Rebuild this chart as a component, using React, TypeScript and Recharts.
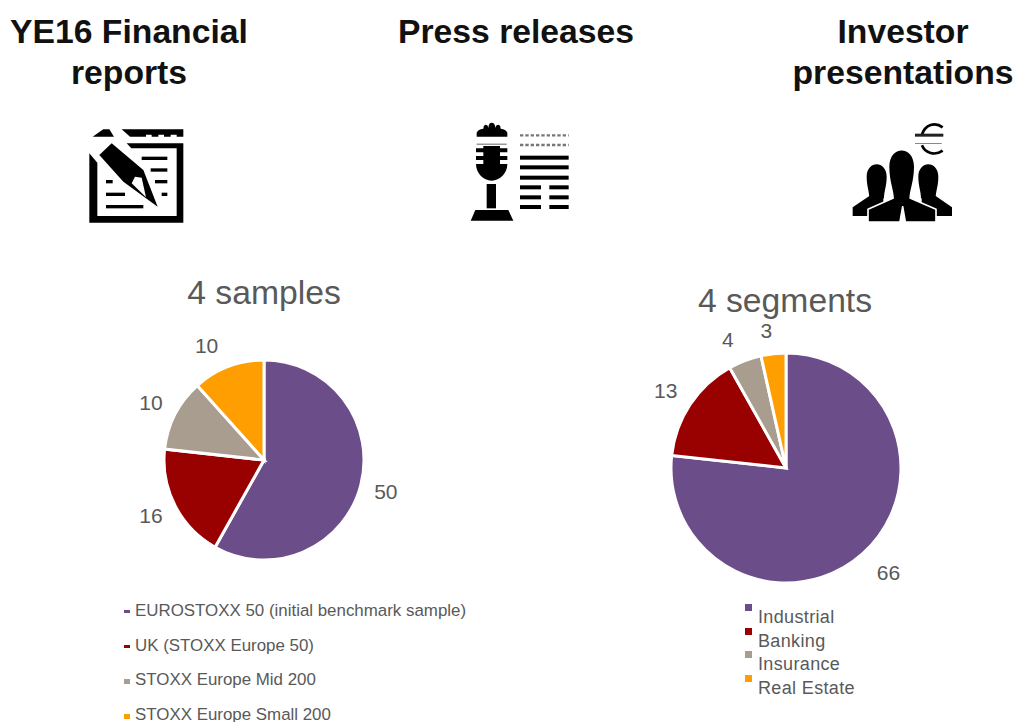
import React from "react";
import { PieChart, Pie, Cell, Legend } from "recharts";

const FONT = "'Liberation Sans', Arial, sans-serif";
const GREY = "#595959";

const sampleNames = ["EUROSTOXX 50 (initial benchmark sample)", "UK (STOXX Europe 50)", "STOXX Europe Mid 200", "STOXX Europe Small 200"];
const sampleValues = [50, 16, 10, 10];
const segmentNames = ["Industrial", "Banking", "Insurance", "Real Estate"];
const segmentValues = [66, 13, 4, 3];
const sliceColors = ["#6b4d89", "#990000", "#a99d8f", "#ff9e00"];

const headings = [
  { lines: ["YE16 Financial", "reports"], center: 129 },
  { lines: ["Press releases"], center: 516 },
  { lines: ["Investor", "presentations"], center: 903 },
];

const toRows = (names: string[], values: number[]) => names.map((name, i) => ({ name, value: values[i] }));
const sampleRows = toRows(sampleNames, sampleValues);
const segmentRows = toRows(segmentNames, segmentValues);

const RAD = Math.PI / 180;
const NO_MARGIN = { top: 0, right: 0, bottom: 0, left: 0 };

// Value label set outside the rim along the slice's mid angle, then nudged clear of its neighbours.
const radialLabel = (gap: number, nudges: number[][]) => (p: any) => {
  const r = p.outerRadius + gap;
  const x = p.cx + r * Math.cos(-p.midAngle * RAD) + nudges[p.index][0];
  const y = p.cy + r * Math.sin(-p.midAngle * RAD) + nudges[p.index][1];
  return (
    <text x={x} y={y} textAnchor="middle" dominantBaseline="central" fontFamily={FONT} fontSize={21} fill={GREY}>
      {p.value}
    </text>
  );
};

const SampleLegend = () => (
  <div style={{ position: "relative", fontFamily: FONT, fontSize: 16.9, color: GREY }}>
    {sampleNames.map((name, i) => (
      <div key={name} style={{ position: "absolute", left: 0, top: i * 34.6, whiteSpace: "nowrap", lineHeight: "16px" }}>
        <span style={{ position: "absolute", left: 0, top: 7, width: 6, height: i < 2 ? 3 : 5, background: sliceColors[i] }} />
        <span style={{ position: "absolute", left: 11, top: 0 }}>{name}</span>
      </div>
    ))}
  </div>
);

const SegmentLegend = () => (
  <div style={{ position: "relative", fontFamily: FONT, fontSize: 18, letterSpacing: 0.35, color: GREY }}>
    {segmentNames.map((name, i) => (
      <div key={name} style={{ position: "absolute", left: 0, top: i * 23.6, whiteSpace: "nowrap", lineHeight: "20px" }}>
        <span style={{ position: "absolute", left: 0, top: 0, width: 7, height: 7, background: sliceColors[i] }} />
        <span style={{ position: "absolute", left: 13, top: 3 }}>{name}</span>
      </div>
    ))}
  </div>
);

const ReportIcon = () => (
  <svg width={160} height={125} viewBox="0 0 480 375" style={{ position: "absolute", left: 60, top: 110 }}>
    <path d="M88 130 L112 158 V318 H350 V115 H214 L200 100 H370 V338 H88 Z" fill="#000" />
    <path d="M98 80 L130 58 H148 L162 80 Z" fill="#000" />
    <path d="M185 58 H370 V80 H350 V74 H332 V80 H312 V74 H295 V80 H275 V74 H258 V80 H210 Z" fill="#000" />
    <path d="M118 135 L155 100 L250 180 L293 290 L190 215 Z" fill="#000" />
    <path d="M225 200 L245 203 L258 262 L215 220 Z" fill="#fff" />
    {[[245, 322, 145], [272, 322, 180], [285, 322, 215], [305, 322, 253], [138, 158, 215], [138, 195, 253], [138, 250, 290]].map(([a, b, y]) => (
      <rect key={`${a}-${y}`} x={a} y={y - 5} width={b - a} height={10} fill="#000" />
    ))}
  </svg>
);

const PressIcon = () => (
  <svg width={140} height={125} viewBox="0 0 420 375" style={{ position: "absolute", left: 450, top: 110 }}>
    <path d="M80 80 V68 Q84 58 100 56 Q100 46 106 44 Q114 44 115 54 Q116 38 125 38 Q135 38 136 54 Q137 44 146 44 Q152 46 152 56 Q168 58 172 68 V80 Z" fill="#000" />
    <rect x={80} y={101} width={90} height={3} fill="#666" />
    <path d="M100 108 H150 V115 H172 V127 H150 V138 H172 V150 H150 V162 H172 C172 190 150 212 125 212 C100 212 78 190 78 162 H100 V150 H78 V138 H100 V127 H78 V115 H100 Z" fill="#000" />
    <rect x={110} y={222} width={28} height={73} fill="#000" />
    <path d="M62 332 L76 300 H175 L190 332 Z" fill="#000" />
    {[143, 172, 203].map((y) => (
      <rect key={y} x={210} y={y - 6} width={146} height={12} fill="#000" />
    ))}
    {[232, 262, 291].map((y) => (
      <g key={y}>
        <rect x={210} y={y - 6} width={63} height={12} fill="#000" />
        <rect x={298} y={y - 6} width={58} height={12} fill="#000" />
      </g>
    ))}
    {[76, 105].map((y) => (
      <line key={y} x1={210} x2={356} y1={y} y2={y} stroke="#777" strokeWidth={7} strokeDasharray="10 6" />
    ))}
  </svg>
);

const InvestorIcon = () => (
  <svg width={140} height={125} viewBox="0 0 420 375" style={{ position: "absolute", left: 830, top: 110 }}>
    <path d="M338 52 C315 34 285 44 276 74" fill="none" stroke="#000" strokeWidth={8} />
    <rect x={255} y={71} width={85} height={9} fill="#222" />
    <rect x={255} y={99} width={80} height={3} fill="#888" />
    <path d="M276 106 C285 130 315 138 338 122" fill="none" stroke="#000" strokeWidth={8} />
    <path d="M110 200 C110 150 170 150 170 200 C170 228 162 245 162 265 H118 C118 245 110 228 110 200 Z" fill="#000" />
    <path d="M265 200 C265 150 325 150 325 200 C325 228 317 245 317 265 H273 C273 245 265 228 265 200 Z" fill="#000" />
    <path d="M68 318 V292 L118 258 H160 V318 Z" fill="#000" />
    <path d="M366 318 V292 L317 258 H275 V318 Z" fill="#000" />
    <path d="M114 336 V298 L190 264 H240 L318 298 V336 H226 L218 290 L210 336 Z" fill="#000" stroke="#fff" strokeWidth={5} strokeLinejoin="round" />
    <path d="M178 170 C178 105 252 105 252 170 C252 215 238 240 238 268 L218 288 L192 268 C192 240 178 215 178 170 Z" fill="#000" />
  </svg>
);

export default function App() {
  return (
    <div style={{ position: "absolute", left: 0, top: 0, width: 1015, height: 722, overflow: "hidden", background: "#fff" }}>
      {headings.map((h) =>
        h.lines.map((line, i) => (
          <div
            key={line}
            style={{
              position: "absolute",
              left: h.center - 200,
              width: 400,
              top: 13 + i * 41,
              textAlign: "center",
              fontFamily: FONT,
              fontWeight: 700,
              fontSize: 33.7,
              lineHeight: "36px",
              color: "#111",
            }}
          >
            {line}
          </div>
        ))
      )}
      <ReportIcon />
      <PressIcon />
      <InvestorIcon />

      <div style={{ position: "absolute", left: 64, top: 272, width: 400, textAlign: "center", fontFamily: FONT, fontSize: 33.7, lineHeight: "40px", color: GREY }}>
        4 samples
      </div>
      <div style={{ position: "absolute", left: 585, top: 280, width: 400, textAlign: "center", fontFamily: FONT, fontSize: 33.7, lineHeight: "40px", color: GREY }}>
        4 segments
      </div>

      <div style={{ position: "absolute", left: 0, top: 320 }}>
        <PieChart width={520} height={402} margin={NO_MARGIN}>
          <Pie
            data={sampleRows}
            dataKey="value"
            nameKey="name"
            cx={264}
            cy={140}
            outerRadius={100}
            startAngle={90}
            endAngle={-270}
            stroke="#fff"
            strokeWidth={3}
            isAnimationActive={false}
            labelLine={false}
            label={radialLabel(27, [[-1, -1], [0, -3], [0, 1], [-12, 4]])}
          >
            {sampleRows.map((r, i) => (
              <Cell key={r.name} fill={sliceColors[i]} />
            ))}
          </Pie>
          <Legend
            layout="vertical"
            align="center"
            verticalAlign="middle"
            content={SampleLegend}
            wrapperStyle={{ position: "absolute", left: 124, top: 283, width: 360, height: 118 }}
          />
        </PieChart>
      </div>

      <div style={{ position: "absolute", left: 520, top: 300 }}>
        <PieChart width={495} height={422} margin={NO_MARGIN}>
          <Pie
            data={segmentRows}
            dataKey="value"
            nameKey="name"
            cx={266}
            cy={168}
            outerRadius={115}
            startAngle={90}
            endAngle={-270}
            stroke="#fff"
            strokeWidth={3}
            isAnimationActive={false}
            labelLine={false}
            label={radialLabel(28, [[7, -2], [-1, 1], [-7, 5], [-4, 5]])}
          >
            {segmentRows.map((r, i) => (
              <Cell key={r.name} fill={sliceColors[i]} />
            ))}
          </Pie>
          <Legend
            layout="vertical"
            align="center"
            verticalAlign="middle"
            content={SegmentLegend}
            wrapperStyle={{ position: "absolute", left: 225, top: 304, width: 200, height: 110 }}
          />
        </PieChart>
      </div>
    </div>
  );
}
